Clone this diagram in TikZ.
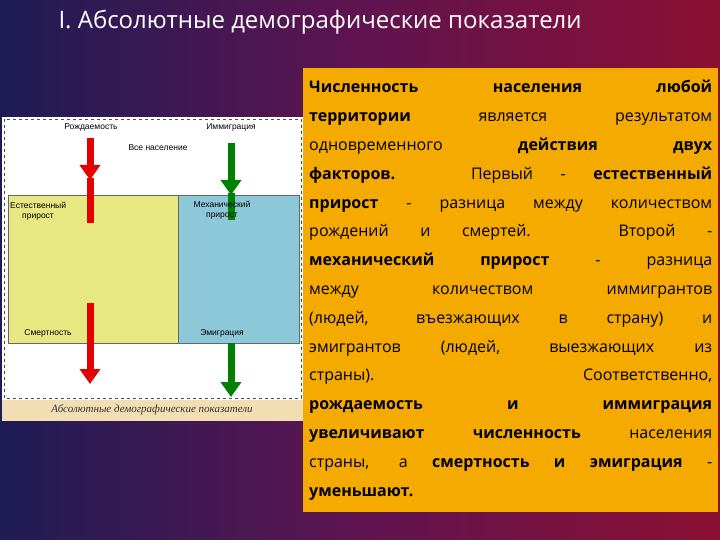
\documentclass[tikz,border=0pt]{standalone}
\usepackage{fontspec}
\setmainfont{Open Sans}
\newfontfamily\diafont{Liberation Sans}
\newfontfamily\capfont{Liberation Serif}
\usetikzlibrary{arrows.meta}
\definecolor{bgl}{RGB}{30,28,85}
\definecolor{bgm}{RGB}{95,20,80}
\definecolor{bgr}{RGB}{140,15,50}
\definecolor{boxor}{RGB}{245,170,0}
\definecolor{capbg}{RGB}{243,222,180}
\definecolor{yel}{RGB}{232,232,130}
\definecolor{blu}{RGB}{140,200,215}
\tikzset{
  lab/.style={font=\diafont\fontsize{8.5}{9.5}\selectfont, text=black, align=center, inner sep=0},
  redarr/.style={draw=red!90!black, line width=7pt, -{Triangle[width=20pt,length=15pt]}},
  grnarr/.style={draw=green!50!black, line width=7pt, -{Triangle[width=20pt,length=15pt]}},
  redbar/.style={draw=red!90!black, line width=7pt},
  grnbar/.style={draw=green!50!black, line width=7pt},
}
\begin{document}
\begin{tikzpicture}[x=1pt,y=-1pt]
\useasboundingbox (0,0) rectangle (720,540);
\shade[left color=bgl, right color=bgr, middle color=bgm] (0,0) rectangle (720,540);
\node[text=white, font=\fontsize{24}{28}\selectfont, anchor=west] (title) at (55,22) {I. Абсолютные демографические показатели};
\node[fill=boxor, anchor=north west, minimum width=415pt, minimum height=444pt, text width=403pt, inner xsep=6pt, inner ysep=6pt, align=justify, font=\fontsize{16}{28.8}\selectfont, text=black] (txt) at (303,68) {%
\textbf{Численность населения любой}\linebreak
\textbf{территории} является результатом\linebreak
одновременного \textbf{действия двух}\linebreak
\textbf{факторов.} Первый - \textbf{естественный}\linebreak
\textbf{прирост} - разница между количеством\linebreak
рождений и смертей. Второй -\linebreak
\textbf{механический прирост} - разница\linebreak
между количеством иммигрантов\linebreak
(людей, въезжающих в страну) и\linebreak
эмигрантов (людей, выезжающих из\linebreak
страны). Соответственно,\linebreak
\textbf{рождаемость и иммиграция}\linebreak
\textbf{увеличивают численность} населения\linebreak
страны, а \textbf{смертность и эмиграция} -\linebreak
\textbf{уменьшают.}};
\fill[white] (2,117) rectangle (303,400);
\draw[dashed, black!70, line width=0.8pt] (4,119) rectangle (301,398);
\fill[capbg] (2,400) rectangle (303,421);
\node[font=\capfont\itshape\fontsize{11}{12}\selectfont, text=black!80] (cap) at (152,410) {Абсолютные демографические показатели};
\draw[fill=yel, draw=black!60, line width=0.8pt] (8,195) rectangle (178,343);
\draw[fill=blu, draw=black!60, line width=0.8pt] (178,195) rectangle (299,343);
\draw[redarr] (90,138) -- (90,180);
\draw[redbar] (90,178) -- (90,223);
\draw[grnarr] (231,143) -- (231,195);
\draw[grnbar] (231,193) -- (231,220);
\draw[redarr] (90,303) -- (90,384);
\draw[grnarr] (231,343) -- (231,397);
\node[lab] (rozh) at (91,127) {Рождаемость};
\node[lab] (imm) at (231,127) {Иммиграция};
\node[lab] (vse) at (158,148) {Все население};
\node[lab, align=left, anchor=north west] (est) at (10,202) {Естественный\\\hspace{12pt}прирост};
\node[lab] (mekh) at (222,210) {Механический\\прирост};
\node[lab] (smert) at (48,333) {Смертность};
\node[lab] (emig) at (222,333) {Эмиграция};
\end{tikzpicture}
\end{document}
